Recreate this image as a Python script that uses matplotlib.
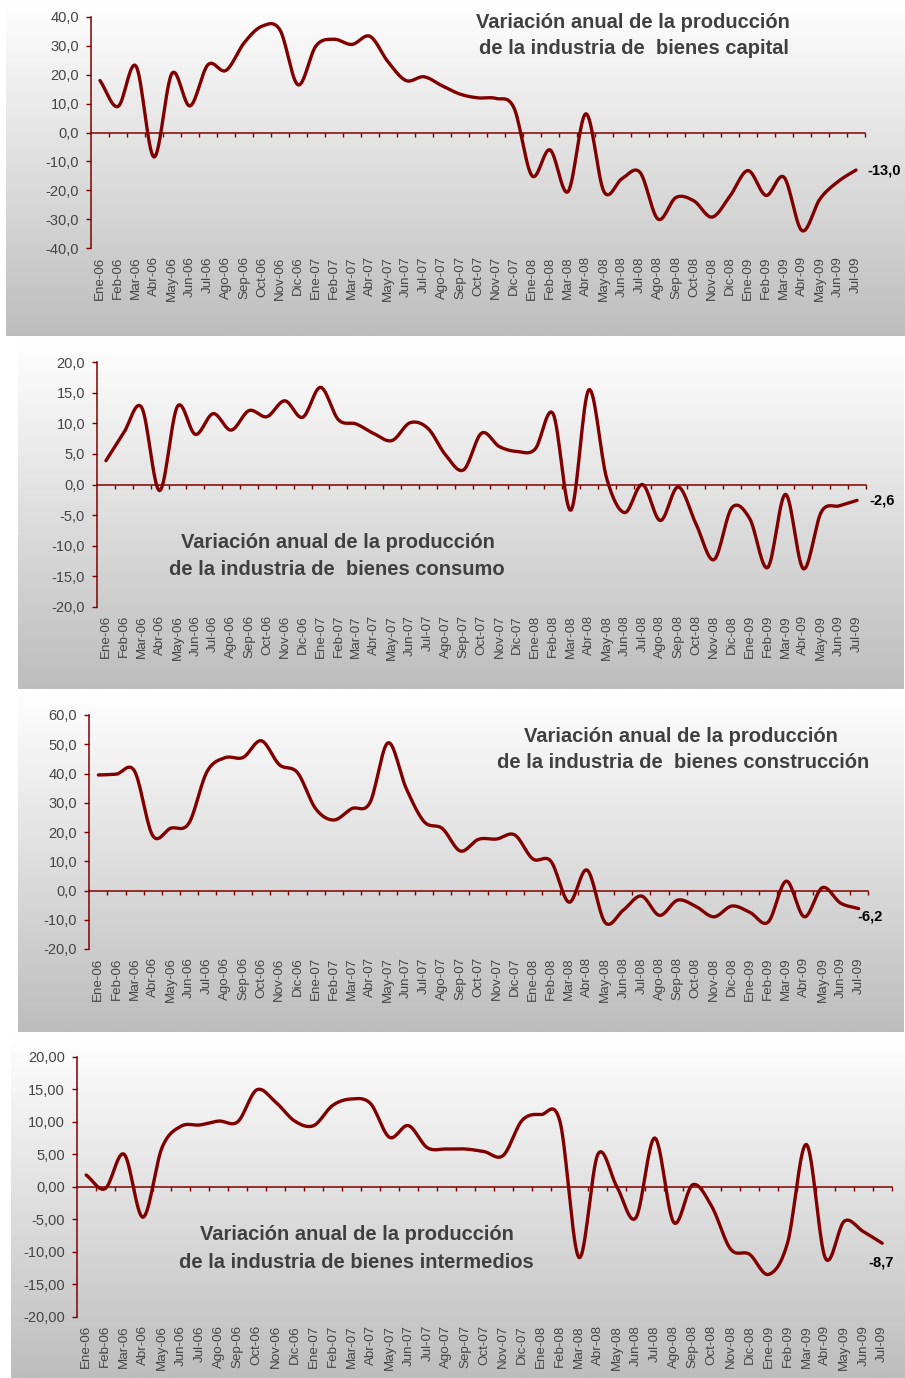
import numpy as np
import matplotlib
matplotlib.use("Agg")
import matplotlib.pyplot as plt
from matplotlib.colors import LinearSegmentedColormap

plt.rcParams['font.family'] = ['Liberation Sans', 'DejaVu Sans']

months = ["Ene-06", "Feb-06", "Mar-06", "Abr-06", "May-06", "Jun-06", "Jul-06", "Ago-06",
          "Sep-06", "Oct-06", "Nov-06", "Dic-06", "Ene-07", "Feb-07", "Mar-07", "Abr-07",
          "May-07", "Jun-07", "Jul-07", "Ago-07", "Sep-07", "Oct-07", "Nov-07", "Dic-07",
          "Ene-08", "Feb-08", "Mar-08", "Abr-08", "May-08", "Jun-08", "Jul-08", "Ago-08",
          "Sep-08", "Oct-08", "Nov-08", "Dic-08", "Ene-09", "Feb-09", "Mar-09", "Abr-09",
          "May-09", "Jun-09", "Jul-09"]

capital = [18.0, 9.0, 23.0, -8.5, 20.5, 9.2, 23.5, 21.5, 31.0, 36.8, 35.5, 16.5,
           30.0, 32.3, 30.5, 33.3, 24.5, 18.0, 19.3, 16.2, 13.3, 12.0, 11.8, 8.5,
           -15.0, -6.0, -20.5, 6.5, -20.5, -16.0, -13.8, -30.0, -22.5, -23.7, -29.3, -22.0,
           -13.2, -21.8, -15.5, -34.0, -23.0, -17.0, -13.0]

consumo = [3.9, 8.5, 12.6, -1.0, 12.8, 8.2, 11.6, 8.9, 12.1, 11.1, 13.7, 11.0,
           15.9, 10.6, 9.9, 8.3, 7.2, 10.1, 9.2, 4.8, 2.4, 8.4, 6.2, 5.4,
           5.8, 11.6, -4.2, 15.5, 1.0, -4.6, 0.0, -5.9, -0.4, -6.5, -12.3, -3.8,
           -5.6, -13.6, -1.6, -13.8, -4.5, -3.5, -2.6]

construccion = [39.5, 39.8, 40.8, 18.8, 21.3, 23.0, 40.6, 45.4, 45.5, 51.2, 43.0, 40.3,
                28.0, 24.1, 28.0, 30.0, 50.5, 35.0, 23.5, 21.2, 13.5, 17.5, 17.6, 19.0,
                10.8, 10.0, -4.0, 7.0, -11.0, -6.7, -1.9, -8.5, -3.3, -5.4, -9.0, -5.3,
                -7.5, -10.8, 3.2, -9.0, 1.0, -4.3, -6.2]

intermedios = [1.8, -0.3, 5.0, -4.7, 6.0, 9.3, 9.5, 10.1, 10.0, 14.9, 13.0, 10.1,
               9.4, 12.5, 13.5, 12.8, 7.6, 9.4, 6.0, 5.8, 5.8, 5.4, 4.8, 10.2,
               11.1, 10.0, -10.9, 5.0, 0.0, -4.8, 7.5, -5.5, 0.3, -3.0, -9.6, -10.4,
               -13.5, -8.7, 6.5, -11.0, -5.3, -6.9, -8.7]

W, H = 905, 1378
RED = "#800000"
grad = LinearSegmentedColormap.from_list("g", ["#ffffff", "#bdbdbd"])


def smooth(y, n=16):
    # Excel style smoothed line (Catmull-Rom)
    y = np.asarray(y, dtype=float)
    x = np.arange(len(y), dtype=float)
    p = np.concatenate([[2 * y[0] - y[1]], y, [2 * y[-1] - y[-2]]])
    xs, ys = [], []
    t = np.linspace(0, 1, n, endpoint=False)
    for i in range(len(y) - 1):
        p0, p1, p2, p3 = p[i], p[i + 1], p[i + 2], p[i + 3]
        yy = 0.5 * ((2 * p1) + (-p0 + p2) * t + (2 * p0 - 5 * p1 + 4 * p2 - p3) * t ** 2
                    + (-p0 + 3 * p1 - 3 * p2 + p3) * t ** 3)
        xs.append(x[i] + t)
        ys.append(yy)
    xs.append([x[-1]])
    ys.append([y[-1]])
    return np.concatenate(xs), np.concatenate(ys)


def box(x0, y0, x1, y1):
    return [x0 / W, 1 - y1 / H, (x1 - x0) / W, (y1 - y0) / H]


def panel(bg, pos, values, ylim, step, decimals, title, title_xy, end_off):
    b = fig.add_axes(box(*bg))
    b.imshow(np.linspace(0, 1, 256).reshape(-1, 1), aspect='auto', cmap=grad,
             extent=[0, 1, 0, 1], origin='upper')
    b.axis('off')

    ax = fig.add_axes(box(*pos))
    ax.patch.set_alpha(0)
    xs, ys = smooth(values)
    ax.plot(xs, ys, color=RED, lw=2.4, solid_capstyle='round', zorder=3)
    ax.set_xlim(-0.5, len(values) - 0.5)
    ax.set_ylim(*ylim)

    for s in ['top', 'right']:
        ax.spines[s].set_visible(False)
    ax.spines['left'].set_color(RED)
    ax.spines['left'].set_linewidth(1.1)
    ax.spines['bottom'].set_position(('data', 0))
    ax.spines['bottom'].set_color(RED)
    ax.spines['bottom'].set_linewidth(1.1)

    ax.set_xticks(np.arange(len(values)) + 0.5)
    ax.tick_params(axis='x', direction='out', length=3, width=1, color=RED, labelbottom=False)
    yt = np.arange(ylim[0], ylim[1] + step / 2, step)
    ax.set_yticks(yt)
    ax.set_yticklabels([f"{v:.{decimals}f}".replace('.', ',') for v in yt])
    ax.tick_params(axis='y', direction='out', length=3.6, width=1, color=RED,
                   labelsize=10.5, labelcolor="#454545", pad=5)

    sec = ax.secondary_xaxis(0)
    sec.set_xticks(np.arange(len(values)))
    sec.set_xticklabels(months, rotation=90, fontsize=9.6, color="#454545")
    sec.tick_params(length=0, pad=6)
    sec.spines['bottom'].set_visible(False)

    ax.annotate(f"{values[-1]:.1f}".replace('.', ','), xy=(len(values) - 1, values[-1]),
                xytext=end_off, textcoords='offset points', fontsize=10.5,
                fontweight='bold', color='black', va='center', ha='left')

    for line, (tx, ty) in zip(title, title_xy):
        fig.text(tx / W, 1 - ty / H, line, ha='center', va='center', fontsize=14.5,
                 fontweight='bold', color="#404040")


fig = plt.figure(figsize=(W / 100, H / 100), dpi=100)

panel((6, 0, 905, 336), (91, 17, 865, 248), capital, (-40, 40), 10, 1,
      ["Variación anual de la producción", "de la industria de  bienes capital"],
      [(633, 22), (634, 49)], (8.5, 0))

panel((18, 340, 903, 689), (97, 362.3, 866, 606.7), consumo, (-20, 20), 5, 1,
      ["Variación anual de la producción", "de la industria de  bienes consumo"],
      [(337.5, 542), (337, 570)], (9, 0))

panel((18, 692, 903, 1032), (89.3, 715, 867.7, 949), construccion, (-20, 60), 10, 1,
      ["Variación anual de la producción", "de la industria de  bienes construcción"],
      [(681, 736), (683, 763)], (-1, -5.8))

panel((11, 1035, 905, 1378), (76.7, 1056.7, 891.7, 1316.7), intermedios, (-20, 20), 5, 2,
      ["Variación anual de la producción", "de la industria de bienes intermedios"],
      [(356.5, 1235), (356, 1263)], (-10, -14))

fig.savefig("out.png", dpi=100)
